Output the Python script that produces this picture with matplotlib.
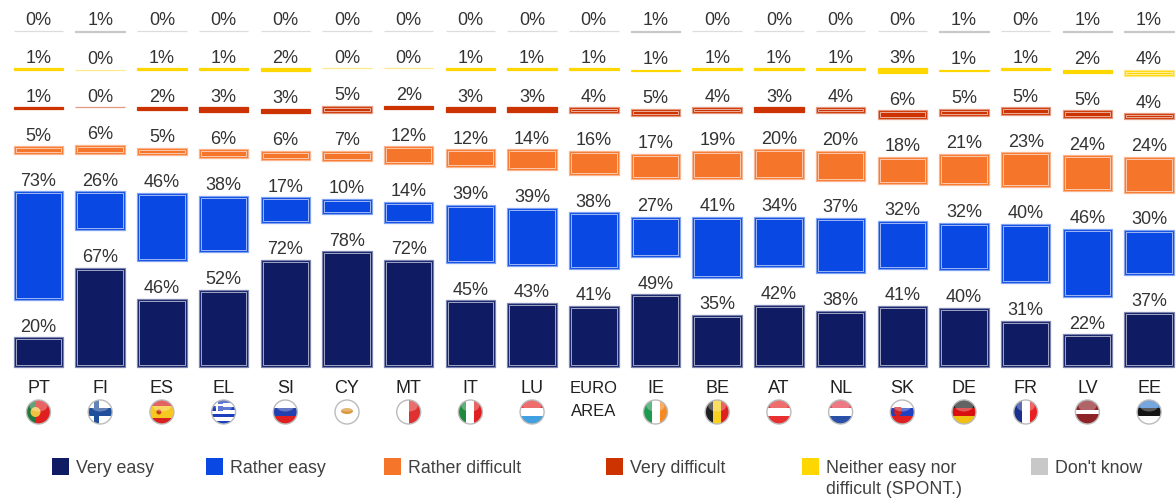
import numpy as np
import matplotlib
matplotlib.use('Agg')
import matplotlib.pyplot as plt
from matplotlib.patches import Circle, Rectangle, Ellipse, Polygon

plt.rcParams['font.family'] = ['Liberation Sans', 'DejaVu Sans']

countries = ['PT', 'FI', 'ES', 'EL', 'SI', 'CY', 'MT', 'IT', 'LU', 'EURO\nAREA',
             'IE', 'BE', 'AT', 'NL', 'SK', 'DE', 'FR', 'LV', 'EE']
very_easy = [20, 67, 46, 52, 72, 78, 72, 45, 43, 41, 49, 35, 42, 38, 41, 40, 31, 22, 37]
rather_easy = [73, 26, 46, 38, 17, 10, 14, 39, 39, 38, 27, 41, 34, 37, 32, 32, 40, 46, 30]
rather_diff = [5, 6, 5, 6, 6, 7, 12, 12, 14, 16, 17, 19, 20, 20, 18, 21, 23, 24, 24]
very_diff = [1, 0, 2, 3, 3, 5, 2, 3, 3, 4, 5, 4, 3, 4, 6, 5, 5, 5, 4]
neither = [1, 0, 1, 1, 2, 0, 0, 1, 1, 1, 1, 1, 1, 1, 3, 1, 1, 2, 4]
dont_know = [0, 1, 0, 0, 0, 0, 0, 0, 0, 0, 1, 0, 0, 0, 0, 1, 0, 1, 1]

series = [very_easy, rather_easy, rather_diff, very_diff, neither, dont_know]
colors = ['#0F1C64', '#0A48E3', '#F5762A', '#CC3300', '#FFD700', '#C8C8C8']
edges = ['#7C84B2', '#7FA2F2', '#FAB48E', '#E59A80', '#FFE98A', '#DDDDDD']
legend_labels = ['Very easy', 'Rather easy', 'Rather difficult', 'Very difficult',
                 'Neither easy nor\ndifficult (SPONT.)', "Don't know"]
legend_x = [52, 206, 384, 606, 802, 1031]

# flag stripes: orientation, colours (circle centre order = countries)
flags = [('v', ['#1E7A3C', '#E02020', '#E02020']),
         ('h', ['#FFFFFF', '#1F4E9A', '#FFFFFF']),
         ('h', ['#D8201F', '#F7C81E', '#F7C81E', '#D8201F']),
         ('h', ['#1B3FBF', '#FFFFFF', '#1B3FBF', '#FFFFFF', '#1B3FBF', '#FFFFFF', '#1B3FBF']),
         ('h', ['#FFFFFF', '#2440B0', '#E02020']),
         ('h', ['#FFFFFF']),
         ('v', ['#FFFFFF', '#E03030']),
         ('v', ['#1E8A3C', '#FFFFFF', '#E02020']),
         ('h', ['#E83030', '#FFFFFF', '#40A0E0']),
         None,
         ('v', ['#1E9A50', '#FFFFFF', '#F58A20']),
         ('v', ['#202020', '#F7D020', '#E02020']),
         ('h', ['#E83030', '#FFFFFF', '#E83030']),
         ('h', ['#E84050', '#FFFFFF', '#2A50A8']),
         ('h', ['#FFFFFF', '#2040C0', '#E02020']),
         ('h', ['#202020', '#D81010', '#F0C010']),
         ('v', ['#1A2F90', '#FFFFFF', '#E82020']),
         ('h', ['#8E2428', '#8E2428', '#FFFFFF', '#8E2428', '#8E2428']),
         ('h', ['#3A80D0', '#151515', '#FFFFFF'])]

W, H = 1176, 500
px_per_unit = 1.485
base_y = 367
first_x = 38.5
step_x = 61.7
gap = 37.5 / px_per_unit
bar_w = 49.5 / step_x

fig = plt.figure(figsize=(W / 100, H / 100), dpi=100)
ax = fig.add_axes([0, 0, 1, 1])
ax.set_xlim(-first_x / step_x, (W - first_x) / step_x)
ax.set_ylim(-(H - base_y) / px_per_unit, base_y / px_per_unit)
ax.axis('off')

x = np.arange(len(countries))
bottom = np.zeros(len(countries))
inset_x = 2.0 / step_x
inset_y = 2.0 / px_per_unit
for vals, col, edge in zip(series, colors, edges):
    vals = np.array(vals, dtype=float)
    # small bars are solid, only the empty ones show the light outline
    edge_cols = [edge if v == 0 or v >= 4 else col for v in vals]
    ax.bar(x, vals, bar_w, bottom=bottom, color=col, edgecolor=edge_cols, linewidth=0.9)
    big = vals >= 4
    ax.bar(x[big], vals[big] - 2 * inset_y, bar_w - 2 * inset_x, bottom=bottom[big] + inset_y,
           fill=False, edgecolor='white', linewidth=0.5, alpha=0.85)
    for xi, b, v in zip(x, bottom, vals):
        ax.annotate('%d%%' % v, (xi, b + v), xytext=(0, 1.2), textcoords='offset points',
                    ha='center', va='bottom', fontsize=13, color='#333333')
    bottom = bottom + vals + gap

# overlay in pixel coordinates for category labels, flags and legend
ov = fig.add_axes([0, 0, 1, 1])
ov.set_xlim(0, W)
ov.set_ylim(H, 0)
ov.axis('off')
ov.patch.set_alpha(0)

for i, name in enumerate(countries):
    cx = first_x + i * step_x
    if '\n' in name:
        ov.text(cx, 393, name.split('\n')[0], ha='center', va='baseline', fontsize=12, color='#202020')
        ov.text(cx, 416, name.split('\n')[1], ha='center', va='baseline', fontsize=12, color='#202020')
        continue
    ov.text(cx, 393, name, ha='center', va='baseline', fontsize=13, color='#202020')
    cy, r = 412, 12
    clip = Circle((cx, cy), r, transform=ov.transData)
    orient, bands = flags[i]
    n = len(bands)
    for k, c in enumerate(bands):
        if orient == 'h':
            p = Rectangle((cx - r, cy - r + 2 * r * k / n), 2 * r, 2 * r / n, color=c, lw=0)
        else:
            p = Rectangle((cx - r + 2 * r * k / n, cy - r), 2 * r / n, 2 * r, color=c, lw=0)
        ov.add_patch(p)
        p.set_clip_path(clip)
    if name == 'FI':
        ov.add_patch(Rectangle((cx - 6, cy - r), 5, 2 * r, color='#1F4E9A', lw=0)).set_clip_path(clip)
    if name == 'EL':
        ov.add_patch(Rectangle((cx - r, cy - r), 11, 11, color='#1B3FBF', lw=0)).set_clip_path(clip)
        ov.add_patch(Rectangle((cx - r, cy - 8), 11, 2, color='#FFFFFF', lw=0)).set_clip_path(clip)
        ov.add_patch(Rectangle((cx - 7.5, cy - r), 2, 11, color='#FFFFFF', lw=0)).set_clip_path(clip)
    if name == 'CY':
        ov.add_patch(Ellipse((cx, cy - 1), 12, 6, color='#D9963A', lw=0))
    if name == 'PT':
        ov.add_patch(Circle((cx - 3, cy), 5, color='#F0C040', lw=0))
    if name == 'ES':
        ov.add_patch(Circle((cx - 3, cy), 2.5, color='#C84020', lw=0))
    if name == 'SK':
        ov.add_patch(Polygon([[cx - 8, cy - 5], [cx - 1, cy - 5], [cx - 1, cy + 2], [cx - 4.5, cy + 5],
                              [cx - 8, cy + 2]], color='#D02020', lw=0))
    # gloss and rim
    ov.add_patch(Ellipse((cx, cy - 6), 18, 11, color='white', alpha=0.3, lw=0)).set_clip_path(clip)
    ov.add_patch(Circle((cx, cy), r, fill=False, edgecolor='#BBBBBB', linewidth=1.0))

for lab, col, lx in zip(legend_labels, colors, legend_x):
    ov.add_patch(Rectangle((lx, 458), 17, 17, facecolor=col, edgecolor='none'))
    ov.text(lx + 24, 473, lab.split('\n')[0], ha='left', va='baseline', fontsize=12.8, color='#404040')
    if '\n' in lab:
        ov.text(lx + 24, 494, lab.split('\n')[1], ha='left', va='baseline', fontsize=12.8, color='#404040')

fig.savefig('out.png', dpi=100)
